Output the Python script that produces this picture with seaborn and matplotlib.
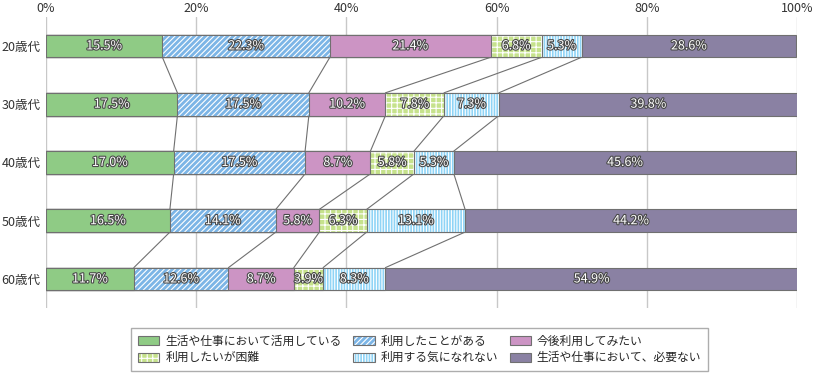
import numpy as np
import pandas as pd
import matplotlib
matplotlib.use('Agg')
import matplotlib.pyplot as plt
import matplotlib.patches as mpatches
import matplotlib.patheffects as pe
import seaborn as sns

ages = ['20歳代', '30歳代', '40歳代', '50歳代', '60歳代']
categories = ['生活や仕事において活用している', '利用したことがある', '今後利用してみたい',
              '利用したいが困難', '利用する気になれない', '生活や仕事において、必要ない']
using = [15.5, 17.5, 17.0, 16.5, 11.7]
used_before = [22.3, 17.5, 17.5, 14.1, 12.6]
want_to_use = [21.4, 10.2, 8.7, 5.8, 8.7]
difficult = [6.8, 7.8, 5.8, 6.3, 3.9]
not_willing = [5.3, 7.3, 5.3, 13.1, 8.3]
not_needed = [28.6, 39.8, 45.6, 44.2, 54.9]
xticks = [0, 20, 40, 60, 80, 100]

colors = ['#8fcb85', '#7cb5e6', '#cc94c4', '#c6e28c', '#8fd4f6', '#8a81a3']
hatches = [None, '//////', None, '+++', '||||||', None]

sns.set_style('white')
plt.rcParams['font.family'] = ['Noto Sans CJK JP', 'DejaVu Sans']
plt.rcParams['hatch.linewidth'] = 0.8

vals = np.array([using, used_before, want_to_use, difficult, not_willing, not_needed]).T
cum = np.cumsum(vals, axis=1)
left = cum - vals

fig = plt.figure(figsize=(8.15, 3.73), dpi=100)
ax = fig.add_axes([0.0564, 0.174, 0.978 - 0.0564, 0.955 - 0.174])

bar_h = 0.39
for k in reversed(range(len(categories))):
    df = pd.DataFrame({'age': ages, 'cum': cum[:, k]})
    n_before = len(ax.patches)
    sns.barplot(data=df, x='cum', y='age', orient='h', color=colors[k], saturation=1,
                width=bar_h, edgecolor='#707070', linewidth=0.8, errorbar=None, ax=ax,
                zorder=3)
    for p in ax.patches[n_before:]:
        if hatches[k]:
            p.set_hatch(hatches[k])
            p._hatch_color = (1, 1, 1, 1)

# connector lines between bars
for i in range(len(ages) - 1):
    for k in range(len(categories) - 1):
        ax.plot([cum[i, k], cum[i + 1, k]], [i + bar_h / 2, i + 1 - bar_h / 2],
                color='#707070', lw=0.8, zorder=2)

# value labels
stroke = [pe.withStroke(linewidth=1.6, foreground='#4a4a4a')]
for i in range(len(ages)):
    for k in range(len(categories)):
        t = ax.text(left[i, k] + vals[i, k] / 2, i, f'{vals[i, k]:.1f}%',
                    ha='center', va='center', fontsize=9, color='white', zorder=5)
        t.set_path_effects(stroke)

ax.set_xlim(0, 100)
ax.set_ylim(len(ages) - 0.5, -0.5)
ax.set_xticks(xticks)
ax.set_xticklabels([f'{v}%' for v in xticks])
ax.xaxis.tick_top()
ax.tick_params(axis='both', length=0, labelsize=9, colors='#333333')
ax.tick_params(axis='x', pad=1)
ax.tick_params(axis='y', pad=4)
ax.grid(axis='x', color='#c8c8c8', lw=1, zorder=0)
ax.grid(axis='y', visible=False)
for s in ax.spines.values():
    s.set_visible(False)
ax.set_xlabel('')
ax.set_ylabel('')

handles = []
for k in range(len(categories)):
    h = mpatches.Patch(facecolor=colors[k], edgecolor='#707070', lw=0.8, hatch=hatches[k],
                       label=categories[k])
    if hatches[k]:
        h._hatch_color = (1, 1, 1, 1)
    handles.append(h)
order = [0, 3, 1, 4, 2, 5]
leg = fig.legend([handles[j] for j in order], [categories[j] for j in order],
                 loc='center', bbox_to_anchor=(0.515, 0.063), ncol=3, fontsize=8.5,
                 frameon=True, fancybox=False, edgecolor='#999999',
                 handlelength=1.8, handleheight=0.8, columnspacing=1.0,
                 handletextpad=0.5, labelspacing=0.3, borderpad=0.6)
leg.get_frame().set_linewidth(1.0)

fig.savefig('out.png', dpi=100)
